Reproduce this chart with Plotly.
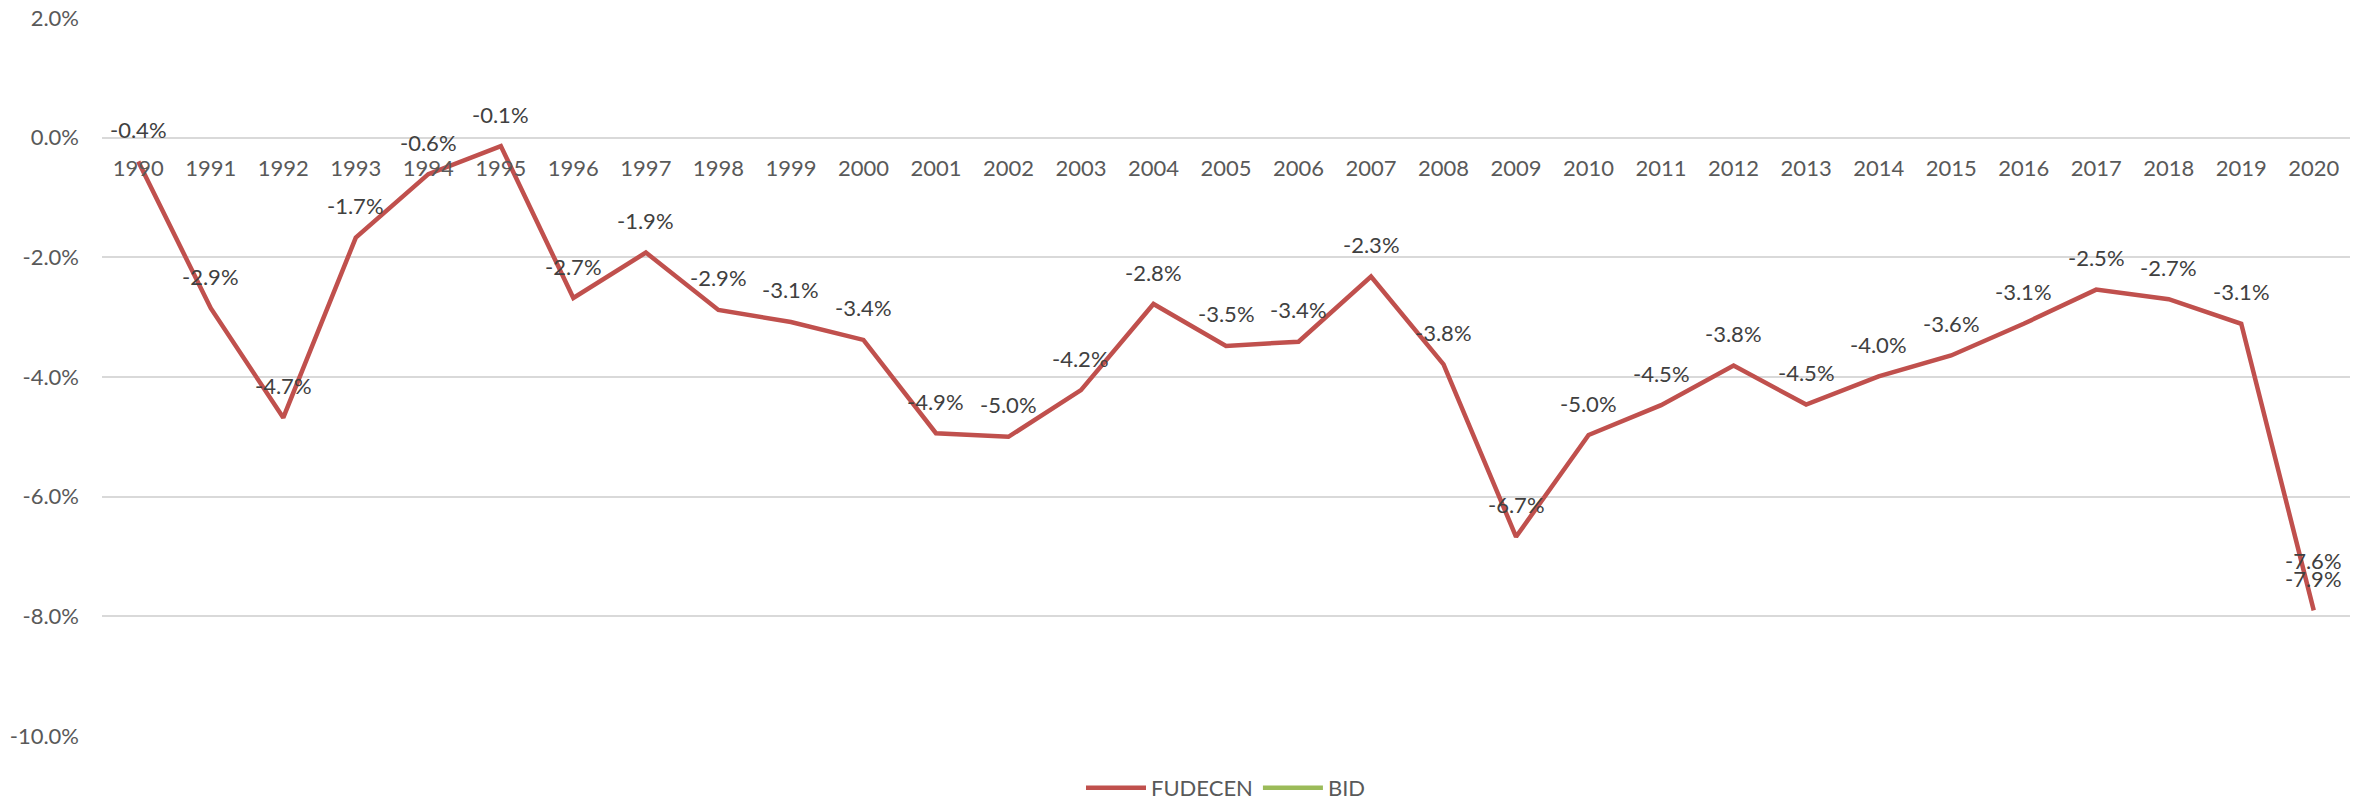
import plotly.graph_objects as go

years = list(range(1990, 2021))
fudecen = [-0.40, -2.85, -4.68, -1.67, -0.61, -0.14, -2.68, -1.92, -2.88, -3.08,
           -3.38, -4.94, -5.00, -4.22, -2.78, -3.48, -3.41, -2.32, -3.79, -6.67,
           -4.97, -4.47, -3.81, -4.46, -3.99, -3.64, -3.11, -2.54, -2.70, -3.11, -7.90]
bid = [None] * 30 + [-7.60]
y_ticks = [2, 0, -2, -4, -6, -8, -10]

RED = "#C0504D"
GREEN = "#9BBB59"
FONT = "Lato"
FS = 22

fig = go.Figure()
fig.add_trace(go.Scatter(x=years, y=fudecen, mode="lines", name="FUDECEN",
                         line=dict(color=RED, width=4.5), cliponaxis=False))
fig.add_trace(go.Scatter(x=years, y=bid, mode="lines", name="BID",
                         line=dict(color=GREEN, width=4.5), cliponaxis=False))

for series in (fudecen, bid):
    for x, v in zip(years, series):
        if v is None:
            continue
        fig.add_annotation(x=x, y=v, xref="x", yref="y", text=f"{v:.1f}%",
                           showarrow=False, yshift=32,
                           font=dict(family=FONT, size=FS, color="#404040"))

fig.update_layout(
    width=2366, height=801,
    margin=dict(l=102, r=16, t=18, b=65, autoexpand=False),
    paper_bgcolor="white", plot_bgcolor="white",
    font=dict(family=FONT, size=FS, color="#595959"),
    legend=dict(orientation="h", x=0.5, xanchor="center", yref="container",
                y=1 - 788 / 801, yanchor="middle", itemwidth=60,
                font=dict(family=FONT, size=FS, color="#595959")),
    xaxis=dict(type="linear", range=[1989.5, 2020.5], tickvals=years,
               ticktext=[str(y) for y in years], showgrid=False, showline=False,
               zeroline=False, ticks="", anchor="free", position=10 / 12,
               automargin=False, ticklabelstandoff=15,
               tickfont=dict(family=FONT, size=FS, color="#595959")),
    yaxis=dict(range=[-10, 2], tickvals=y_ticks, ticktext=[f"{v:.1f}%" for v in y_ticks],
               showgrid=True, gridcolor="#D9D9D9", gridwidth=1.5, zeroline=False,
               showline=False, ticks="", ticklabelstandoff=22, automargin=False,
               tickfont=dict(family=FONT, size=FS, color="#595959")),
)

fig.write_html("out.html", config={"displayModeBar": False},
               post_script="document.body.style.margin='0';document.body.style.overflow='hidden';")
